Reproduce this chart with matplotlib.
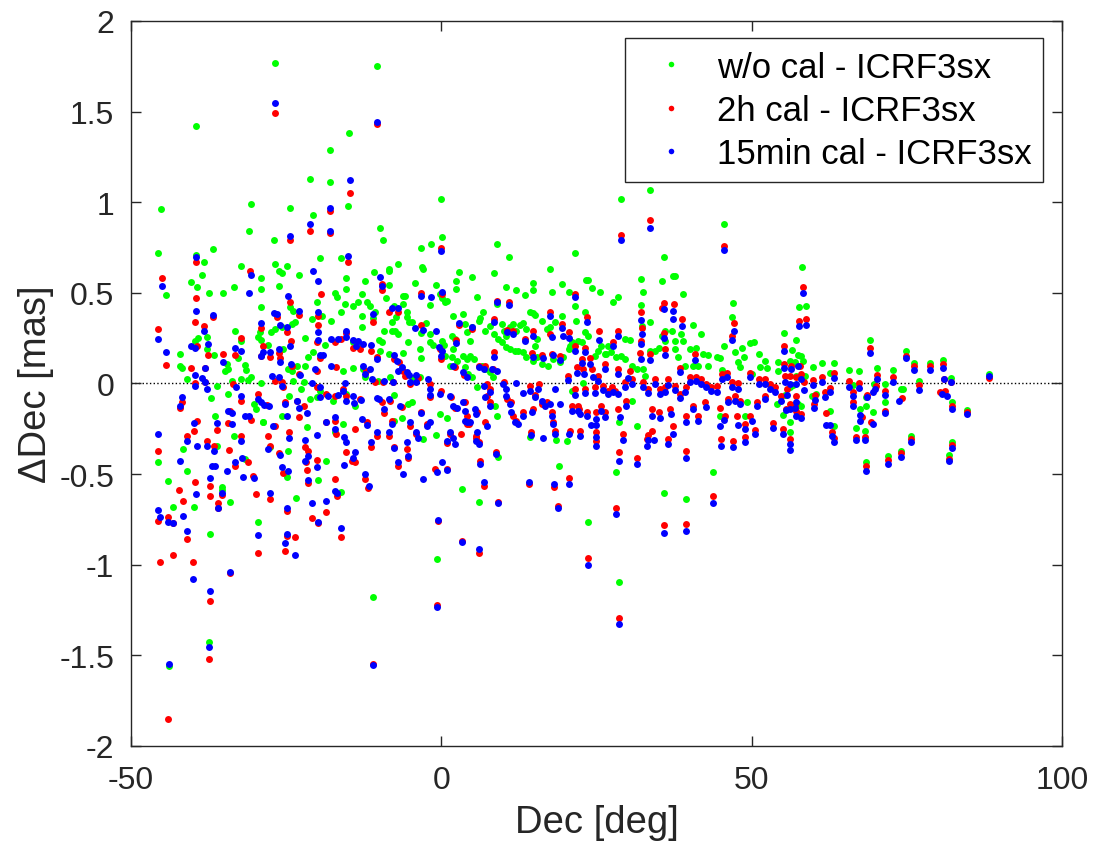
import numpy as np
import matplotlib
matplotlib.use('Agg')
import matplotlib.pyplot as plt

plt.rcParams['font.family'] = ['Liberation Sans', 'DejaVu Sans']
plt.rcParams['axes.unicode_minus'] = False

# Source declination [deg] and Dec offset [mas], one list of (dec, ddec) per solution
wo_cal = [
    (-26.75, 1.77), (-39.5, 1.42), (-14.9, 1.38), (-17.9, 1.29), (-21.2, 1.13), (-17.9, 1.11), (-45.1, 0.96),
    (-30.6, 0.99), (-24.3, 0.97), (-15.1, 0.98), (-20.6, 0.93), (-31.0, 0.84), (-27.0, 0.79), (-45.7, 0.72),
    (-39.5, 0.71), (-36.8, 0.74), (-38.2, 0.67), (-19.6, 0.69), (-16.2, 0.69), (-26.75, 0.66), (-24.9, 0.65),
    (-32.2, 0.65), (-10.3, 1.75), (-0.1, 1.02), (-9.8, 0.86), (-9.45, 0.79), (0.15, 0.81), (-3.3, 0.75),
    (-1.6, 0.77), (9.0, 0.77), (10.9, 0.70), (-7.0, 0.66), (17.5, 0.63), (-3.1, 0.64), (-8.5, 0.63),
    (28.9, 1.02), (33.6, 1.07), (45.6, 0.88), (21.5, 0.72), (35.8, 0.70), (58.15, 0.64),
    (-44.4, 0.49), (-40.3, 0.56), (-38.5, 0.60), (-39.4, 0.53), (-37.5, 0.50), (-35.1, 0.50), (-33.4, 0.53),
    (-29.0, 0.58), (-29.1, 0.52), (-26.2, 0.62), (-25.7, 0.61), (-26.2, 0.54), (-22.9, 0.60), (-20.1, 0.45),
    (-15.4, 0.58), (-15.3, 0.52), (-17.2, 0.50), (-16.8, 0.475), (-15.5, 0.44), (-29.0, 0.42), (-24.4, 0.42),
    (-23.9, 0.40), (-20.9, 0.356), (-19.3, 0.374), (-17.7, 0.347), (-16.1, 0.393), (-24.1, 0.33), (-23.6, 0.337),
    (-27.45, 0.286), (-26.8, 0.30), (-25.7, 0.31), (-33.2, 0.291), (-32.2, 0.236), (-39.7, 0.236), (-39.2, 0.25),
    (-37.8, 0.255), (-37.7, 0.19), (-36.7, 0.159), (-42.1, 0.163), (-42.1, 0.095), (-41.8, 0.087), (-34.6, 0.108),
    (-34.3, 0.08), (-34.8, 0.07), (-32.8, 0.139), (-40.9, 0.025), (-37.1, -0.082), (-36.2, -0.012), (-31.6, 0.10),
    (-31.4, 0.076), (-33.8, 0.016), (-30.6, 0.034), (-31.2, 0.021), (-32.2, 0.025), (-34.3, -0.058), (-36.5, -0.178),
    (-45.7, -0.431), (-41.6, -0.361), (-36.2, -0.343), (-41.0, -0.481), (-44.0, -0.538), (-33.4, -0.288),
    (-31.6, -0.416), (-35.4, -0.573), (-24.8, -0.518), (-24.7, -0.37), (-18.5, -0.43), (-19.9, -0.53),
    (-17.2, -0.27), (-15.8, -0.224), (-21.7, -0.242), (-28.8, -0.21), (-27.6, -0.35), (-25.7, -0.178),
    (-24.6, -0.067), (-28.7, -0.214), (-30.1, -0.113), (-29.8, -0.14), (-23.9, 0.016), (-22.2, 0.006),
    (-29.1, 0.0), (-22.6, -0.03), (-19.6, -0.04), (-15.3, -0.058), (-21.2, -0.085), (-20.1, -0.076),
    (-17.4, -0.095), (-15.8, 0.071), (-20.6, 0.172), (-21.4, 0.144), (-18.8, 0.212), (-21.9, 0.249),
    (-24.7, 0.08), (-24.1, 0.071), (-23.3, 0.098), (-22.0, 0.098), (-28.0, 0.21), (-29.1, 0.242), (-29.5, 0.255),
    (-29.2, 0.282), (-25.5, 0.19),
    (-10.9, 0.617), (-8.5, 0.622), (-3.0, 0.632), (2.9, 0.613), (5.0, 0.586), (8.5, 0.608),
    (-12.3, 0.564), (-8.4, 0.545), (-4.3, 0.554), (-0.86, 0.545), (2.4, 0.564), (2.4, 0.521), (10.5, 0.53),
    (12.1, 0.518), (14.7, 0.554), (14.7, 0.518), (17.8, 0.507), (19.5, 0.549), (-12.8, 0.494), (-8.9, 0.47),
    (-6.1, 0.485), (-5.9, 0.485), (-0.2, 0.494), (5.7, 0.475), (8.9, 0.44), (13.5, 0.49), (-13.4, 0.448),
    (-14.3, 0.426), (-12.0, 0.448), (-11.5, 0.43), (-10.7, 0.393), (-7.7, 0.426), (-6.1, 0.438), (-1.8, 0.433),
    (0.85, 0.457), (0.6, 0.45), (0.05, 0.47), (-12.8, 0.374), (-12.8, 0.31), (-11.0, 0.36), (-9.3, 0.29),
    (-8.0, 0.337), (-7.3, 0.365), (-5.6, 0.396), (-5.6, 0.365), (-5.2, 0.34), (-4.8, 0.34), (-2.4, 0.334),
    (-1.9, 0.273), (-3.3, 0.279), (-5.3, 0.231), (-7.0, 0.273), (-8.0, 0.29), (-7.5, 0.29), (-14.3, 0.227),
    (-13.4, 0.218), (-10.0, 0.242), (-9.5, 0.227), (-9.9, 0.181), (-8.5, 0.163), (-6.1, 0.168), (-3.2, 0.139),
    (-3.4, 0.19), (-1.8, 0.231), (-1.4, 0.212), (0.05, 0.236), (0.4, 0.21), (0.6, 0.15), (1.7, 0.264),
    (2.2, 0.245), (3.5, 0.383), (1.9, 0.374), (3.8, 0.328), (4.1, 0.282), (4.9, 0.31), (4.6, 0.236),
    (6.0, 0.347), (6.3, 0.36), (6.7, 0.396), (7.0, 0.291), (7.8, 0.315), (8.5, 0.273), (9.2, 0.245),
    (9.7, 0.328), (10.1, 0.291), (10.5, 0.264), (11.1, 0.31), (11.5, 0.328), (12.1, 0.291), (12.7, 0.32),
    (13.2, 0.334), (13.6, 0.30), (14.3, 0.393), (14.7, 0.39), (15.1, 0.38), (16.2, 0.347), (17.0, 0.30),
    (17.5, 0.31), (18.3, 0.337), (19.5, 0.374), (15.4, 0.245), (15.1, 0.205), (9.7, 0.231), (10.5, 0.2),
    (11.1, 0.19), (11.9, 0.181), (12.4, 0.181), (13.2, 0.172), (13.7, 0.144), (14.7, 0.126), (15.4, 0.144),
    (16.2, 0.108), (17.2, 0.098), (18.0, 0.135), (19.1, 0.117), (19.6, 0.144), (1.9, 0.19), (1.7, 0.144),
    (1.4, 0.098), (2.5, 0.126), (3.5, 0.15), (4.1, 0.135), (4.7, 0.15), (5.3, 0.135), (3.8, 0.089),
    (4.3, 0.052), (4.9, 0.034), (5.7, -0.021), (6.5, 0.098), (7.0, 0.08), (7.8, 0.062), (8.4, 0.034),
    (-14.2, 0.084), (-12.6, 0.08), (-12.3, 0.034), (-10.2, 0.016), (-8.3, 0.034), (-4.5, 0.029), (-3.5, 0.034),
    (-13.9, -0.122), (-7.7, -0.064), (-6.4, -0.192), (-5.3, -0.113), (-4.8, -0.104), (-7.7, -0.205),
    (-0.2, -0.168), (0.85, -0.192), (-0.9, -0.284), (-2.9, -0.306), (8.6, -0.122), (8.9, -0.178),
    (9.2, -0.407), (19.0, -0.453), (18.5, -0.31), (14.3, -0.297), (3.4, -0.582),
    (23.3, 0.573), (23.7, 0.573), (37.4, 0.591), (37.6, 0.591), (35.5, 0.567), (32.1, 0.577), (20.5, 0.503),
    (24.3, 0.527), (25.5, 0.507), (28.4, 0.475), (27.6, 0.448), (32.5, 0.507), (39.0, 0.494), (47.0, 0.446),
    (21.5, 0.43), (32.1, 0.433), (46.8, 0.365), (21.7, 0.347), (23.1, 0.393), (26.9, 0.205), (25.8, 0.209),
    (26.4, 0.163), (24.8, 0.153), (28.2, 0.144), (29.0, 0.15), (29.6, 0.135), (30.7, 0.098), (31.5, 0.08),
    (32.5, 0.08), (32.8, 0.043), (33.6, 0.181), (34.4, 0.181), (35.0, 0.194), (36.0, 0.291), (37.1, 0.291),
    (37.6, 0.236), (38.6, 0.273), (39.0, 0.236), (40.6, 0.323), (41.9, 0.273), (40.1, 0.19), (41.1, 0.194),
    (42.2, 0.163), (43.0, 0.157), (44.4, 0.144), (44.9, 0.139), (45.6, 0.209), (47.3, 0.172), (48.4, 0.194),
    (49.7, 0.223), (50.3, 0.231), (51.1, 0.163), (52.1, 0.126), (47.8, 0.12), (48.1, 0.089), (51.3, 0.089),
    (52.4, 0.084), (54.3, 0.117), (54.3, 0.071), (50.0, 0.052), (48.7, 0.144), (45.2, 0.076), (43.0, 0.098),
    (41.4, 0.098), (40.6, 0.098), (39.3, 0.098), (38.2, 0.144), (37.6, 0.19), (35.5, 0.264), (36.0, 0.236),
    (29.6, 0.245), (30.4, 0.242), (23.1, 0.282), (23.7, 0.264), (22.1, 0.236), (22.6, 0.227), (20.7, 0.209),
    (25.3, 0.181), (26.6, 0.163), (27.4, 0.172), (32.3, 0.319), (33.6, 0.337), (21.1, 0.227), (20.5, 0.19),
    (30.7, -0.095), (31.6, -0.236), (28.7, -0.214), (20.3, -0.317), (44.9, -0.178), (48.9, -0.178),
    (28.2, -0.486), (43.8, -0.486), (22.9, 0.0), (21.0, -0.04), (54.0, -0.113), (49.2, -0.104),
    (57.6, 0.424), (58.7, 0.43), (55.2, 0.279), (57.2, 0.24), (56.5, 0.187), (57.5, 0.157), (57.9, 0.15),
    (58.2, 0.126), (56.1, 0.126), (57.0, 0.12), (59.8, 0.093), (61.4, 0.115), (63.3, 0.113), (62.6, 0.058),
    (65.7, 0.074), (67.3, 0.067), (70.2, 0.085), (72.7, 0.074), (74.9, 0.181), (76.2, 0.111), (78.7, 0.111),
    (80.9, 0.13), (69.1, 0.242), (76.9, 0.012), (82.1, 0.028), (74.0, -0.03), (74.4, -0.03), (71.5, -0.003),
    (69.7, -0.003), (68.4, -0.076), (66.4, -0.009), (67.5, -0.141), (68.4, -0.122), (69.6, -0.159),
    (71.5, -0.104), (62.6, -0.15), (63.3, -0.233), (66.8, -0.247), (68.3, -0.264), (82.2, -0.104),
    (84.7, -0.148), (75.7, -0.288), (82.2, -0.321), (74.0, -0.37), (71.9, -0.398), (68.4, -0.431),
    (81.8, -0.394), (55.1, -0.174), (56.1, -0.214), (56.1, -0.266), (55.4, -0.064), (56.2, -0.021),
    (56.7, -0.008), (57.4, -0.113), (57.9, -0.122), (57.1, 0.043), (58.6, 0.043), (59.7, -0.067), (60.4, -0.058),
    (88.3, 0.05),
    (-35.4, -0.586), (-34.0, -0.652), (-43.3, -0.681), (-39.9, -0.683), (-37.3, -0.828), (-29.6, -0.762),
    (-23.4, -0.633), (-16.2, -0.597), (-37.4, -1.428), (-43.8, -1.556), (6.1, -0.654), (-0.7, -0.968),
    (-11.0, -1.176), (35.9, -0.606), (39.5, -0.637), (23.6, -0.766), (28.7, -1.097),
]

cal_2h = [
    (-26.75, 1.49), (-10.3, 1.43), (-14.7, 1.05), (-17.9, 0.95), (-21.2, 0.84), (-24.3, 0.79), (-39.5, 0.67),
    (-15.1, 0.67), (-0.1, 0.75), (33.6, 0.90), (28.9, 0.82), (45.6, 0.76), (-17.9, 0.83),
    (-45.06, 0.582), (-39.5, 0.472), (-39.7, 0.341), (-30.8, 0.623), (-19.4, 0.494), (-24.4, 0.448),
    (-36.8, 0.369), (-26.5, 0.365), (-22.9, 0.378), (-19.8, 0.374), (-19.9, 0.323), (-29.1, 0.304),
    (-24.9, 0.282), (-45.7, 0.30), (-38.2, 0.315), (-32.2, 0.251), (-39.4, 0.209), (-37.6, 0.157),
    (-44.4, 0.104), (-35.2, 0.163), (-33.3, 0.157), (-40.3, 0.083), (-38.1, 0.006), (-39.7, 0.0),
    (-38.0, 0.083), (-33.5, -0.003), (-41.8, -0.104), (-42.1, -0.137), (-34.1, -0.15), (-32.2, -0.095),
    (-36.2, -0.257), (-34.4, -0.22), (-39.4, -0.205), (-39.8, -0.26), (-45.6, -0.372), (-40.9, -0.292),
    (-37.8, -0.32), (-36.7, -0.343), (-39.7, -0.541), (-37.3, -0.563), (-33.2, -0.457), (-34.2, -0.365),
    (-32.3, -0.288), (-31.2, -0.431), (-30.3, -0.51), (-25.5, -0.494), (-26.1, -0.385), (-24.5, -0.27),
    (-21.4, -0.37), (-21.8, -0.435), (-20.1, -0.42), (-21.7, -0.477), (-21.4, -0.55), (-17.2, -0.527),
    (-15.3, -0.38), (-16.9, -0.28), (-17.2, -0.205), (-18.5, -0.21), (-22.0, -0.352), (-27.6, -0.343),
    (-27.9, -0.292), (-26.8, -0.233), (-30.6, -0.2), (-23.0, -0.187), (-22.1, -0.122), (-23.3, -0.095),
    (-25.2, -0.1), (-29.5, -0.058), (-28.1, -0.12), (-26.8, 0.015), (-25.6, 0.007), (-25.5, -0.02),
    (-20.1, 0.07), (-20.1, -0.021), (-18.5, -0.058), (-17.1, -0.067), (-15.8, -0.03), (-15.3, -0.067),
    (-16.9, 0.089), (-17.2, 0.227), (-16.1, 0.245), (-15.4, 0.28), (-20.1, 0.231), (-19.6, 0.139),
    (-24.2, 0.236), (-26.0, 0.139), (-24.1, 0.098), (-23.0, 0.052), (-29.0, 0.15), (-28.7, 0.205),
    (-27.6, 0.144), (-26.2, 0.17),
    (-9.6, 0.55), (-9.5, 0.515), (-3.3, 0.5), (0.05, 0.494), (8.9, 0.457), (10.95, 0.448), (-8.4, 0.393),
    (-6.9, 0.393), (-10.96, 0.341), (-3.2, 0.322), (2.4, 0.242), (2.9, 0.323), (5.0, 0.30), (8.5, 0.356),
    (10.6, 0.297), (11.6, 0.29), (13.5, 0.245), (14.7, 0.29), (17.5, 0.393), (17.5, 0.273), (19.5, 0.328),
    (8.5, 0.172), (14.6, 0.168), (16.2, 0.157), (17.8, 0.16), (19.2, 0.153), (-14.3, 0.194), (-13.1, 0.19),
    (-11.4, 0.181), (-10.4, 0.144), (-7.6, 0.135), (-6.8, 0.118), (-6.1, 0.07), (-5.9, 0.043), (-3.7, 0.03),
    (-0.2, 0.19), (-0.1, 0.135), (2.2, 0.089), (3.6, 0.047), (6.0, 0.098), (7.0, 0.098), (8.4, 0.08),
    (-12.1, 0.07), (-13.1, -0.086), (-9.6, -0.1), (-8.3, -0.095), (-7.8, 0.006), (-9.4, 0.006), (-10.7, 0.006),
    (-5.1, -0.003), (-1.8, -0.003), (-1.8, -0.076), (-0.1, -0.04), (1.5, -0.076), (2.2, -0.137), (3.8, -0.104),
    (4.1, -0.178), (4.4, -0.223), (5.7, -0.155), (5.6, -0.288), (6.1, -0.325), (7.0, -0.214), (7.4, -0.067),
    (7.8, -0.03), (7.3, -0.004), (10.1, 0.006), (10.6, -0.086), (11.2, -0.1), (11.6, -0.178), (12.0, -0.205),
    (13.2, -0.16), (14.8, -0.14), (15.1, -0.064), (14.3, -0.012), (15.8, -0.003), (16.2, -0.113),
    (17.0, -0.104), (17.8, -0.16), (18.0, -0.215), (18.3, -0.26), (14.5, -0.27), (8.8, -0.38), (6.2, -0.43),
    (0.85, -0.47), (-1.0, -0.47), (-6.9, -0.453), (-12.3, -0.527), (-13.9, -0.435), (-11.4, -0.352),
    (-10.4, -0.288), (-8.5, -0.288), (-8.0, -0.205), (-7.7, -0.35), (-5.6, -0.361), (-5.3, -0.41), (-4.0, -0.28),
    (-2.3, -0.225), (-3.2, -0.155), (0.85, -0.33), (1.4, -0.28), (3.2, -0.28), (4.1, -0.223), (5.6, -0.3),
    (7.8, -0.104), (-6.4, -0.13), (-5.0, -0.233), (-9.3, -0.163), (-12.0, -0.215), (-13.9, -0.25),
    (6.8, -0.564), (14.2, -0.555), (18.1, -0.57), (-11.8, -0.575), (-14.4, -0.43),
    (21.5, 0.494), (35.8, 0.444), (37.5, 0.438), (35.5, 0.415), (38.7, 0.356), (32.1, 0.393), (32.4, 0.304),
    (28.4, 0.29), (23.4, 0.365), (20.6, 0.282), (25.4, 0.291), (46.8, 0.264), (47.2, 0.334), (35.8, 0.278),
    (36.0, 0.19), (27.6, 0.231), (32.2, 0.236), (23.1, 0.194), (21.5, 0.205), (32.0, 0.168), (33.6, 0.163),
    (40.8, 0.163), (38.4, 0.084), (24.0, 0.139), (26.4, 0.108), (21.8, 0.089), (20.4, 0.043), (28.5, 0.08),
    (30.4, 0.071), (34.4, 0.025), (36.6, 0.025), (41.1, 0.034), (39.5, -0.021), (45.2, 0.052), (46.0, 0.06),
    (47.8, 0.0), (49.7, 0.06), (51.1, 0.025), (52.1, 0.025), (53.8, -0.021), (21.0, -0.126), (22.2, -0.14),
    (23.4, -0.159), (25.0, -0.159), (26.4, -0.159), (28.4, -0.14), (29.7, -0.095), (20.7, -0.26),
    (22.3, -0.26), (25.0, -0.27), (24.9, -0.315), (29.3, -0.278), (33.3, -0.284), (33.9, -0.26),
    (36.6, -0.306), (37.4, -0.233), (39.4, -0.178), (39.4, -0.37), (28.7, -0.38), (31.6, -0.41),
    (33.2, -0.306), (45.1, -0.306), (47.0, -0.315), (48.9, -0.297), (50.5, -0.254), (53.5, -0.218),
    (48.9, -0.223), (44.9, -0.137), (47.6, -0.18), (20.5, -0.523), (22.6, 0.135), (22.9, 0.08), (24.2, 0.08),
    (25.3, 0.043), (26.1, -0.012), (26.9, -0.04), (27.5, -0.021), (28.0, -0.04), (23.1, -0.03), (24.8, -0.021),
    (21.5, -0.03), (30.7, 0.025), (29.6, 0.006), (32.5, 0.006), (33.3, -0.03), (35.2, -0.03), (36.0, -0.021),
    (37.6, -0.012), (38.4, -0.058), (40.1, 0.034), (41.9, 0.025), (42.7, -0.003), (43.5, -0.021),
    (44.4, -0.012), (46.8, 0.006), (47.3, -0.067), (48.1, -0.095), (46.2, -0.085), (52.1, -0.067),
    (53.0, -0.003), (50.8, -0.104), (49.7, -0.178), (45.7, -0.178), (22.1, -0.122), (25.8, -0.122),
    (33.9, -0.14), (35.0, -0.16), (36.9, -0.14), (40.6, -0.122), (41.4, -0.178), (42.5, -0.104),
    (58.2, 0.532), (57.6, 0.343), (58.7, 0.356), (55.2, 0.205), (55.2, 0.107), (56.4, 0.098), (57.8, 0.098),
    (55.4, 0.04), (56.1, 0.043), (57.2, 0.034), (57.9, 0.052), (58.4, 0.006), (54.8, -0.067), (55.7, -0.03),
    (57.1, -0.067), (56.2, -0.113), (57.0, -0.122), (57.1, -0.15), (57.9, -0.168), (55.1, -0.25),
    (56.1, -0.306), (55.5, -0.14), (59.8, 0.019), (61.4, 0.034), (63.3, 0.056), (62.6, -0.025), (61.8, -0.045),
    (60.2, -0.063), (60.1, -0.113), (61.9, -0.163), (62.9, -0.27), (63.3, -0.302), (65.7, 0.016),
    (67.3, 0.001), (66.3, -0.045), (66.3, -0.1), (67.7, -0.187), (66.8, -0.297), (68.3, -0.293),
    (68.6, -0.064), (69.2, -0.21), (69.1, 0.196), (70.2, 0.047), (70.1, -0.012), (71.5, -0.04), (71.5, -0.15),
    (72.7, 0.034), (74.2, -0.08), (74.9, 0.15), (76.2, 0.095), (78.7, 0.095), (80.9, 0.106), (76.9, -0.008),
    (80.3, -0.045), (81.1, -0.04), (81.0, 0.025), (82.1, 0.01), (82.2, -0.122), (84.7, -0.159),
    (75.7, -0.306), (82.2, -0.338), (74.0, -0.385), (71.9, -0.422), (68.4, -0.457), (81.8, -0.416),
    (88.3, 0.032),
    (-42.2, -0.586), (-37.3, -0.619), (-35.4, -0.615), (-41.6, -0.648), (-35.9, -0.659), (-45.7, -0.757),
    (-44.0, -0.736), (-41.0, -0.86), (-45.4, -0.983), (-43.3, -0.944), (-40.0, -0.985), (-34.1, -1.045),
    (-37.3, -1.2), (-37.4, -1.522), (-44.0, -1.85), (-29.6, -0.935), (-29.9, -0.61), (-27.6, -0.637),
    (-24.8, -0.702), (-24.9, -0.843), (-25.2, -0.922), (-23.5, -0.849), (-20.8, -0.742), (-19.9, -0.771),
    (-18.5, -0.707), (-16.8, -0.622), (-16.2, -0.849), (9.2, -0.652), (18.8, -0.678), (-0.55, -0.758),
    (6.1, -0.935), (-0.65, -1.222), (43.8, -0.622), (28.2, -0.687), (35.9, -0.782), (39.5, -0.773),
    (23.6, -0.963), (28.7, -1.296), (-35.9, -0.685), (-43.3, -0.77), (3.4, -0.87), (-11.0, -1.55),
]

cal_15min = [
    (-26.75, 1.55), (-10.3, 1.44), (-14.7, 1.12), (-17.9, 0.97), (-21.2, 0.88), (-17.9, 0.84), (-24.3, 0.815),
    (-39.5, 0.70), (-15.1, 0.705), (-0.1, 0.73), (33.6, 0.86), (28.9, 0.79), (45.6, 0.735),
    (-45.06, 0.54), (-39.5, 0.402), (-30.6, 0.60), (-20.6, 0.619), (-19.9, 0.564), (-31.0, 0.497),
    (-24.7, 0.485), (-36.8, 0.375), (-26.5, 0.383), (-27.0, 0.39), (-22.9, 0.40), (-19.8, 0.396),
    (-19.9, 0.282), (-29.1, 0.334), (-24.9, 0.31), (-26.0, 0.32), (-45.7, 0.245), (-38.2, 0.291),
    (-40.3, 0.209), (-39.7, 0.196), (-37.6, 0.218), (-44.4, 0.176), (-35.2, 0.117), (-33.3, 0.196),
    (-32.2, 0.181), (-39.7, 0.047), (-38.5, 0.028), (-38.1, 0.006), (-39.7, -0.016), (-37.8, -0.03),
    (-38.0, 0.083), (-33.0, -0.021), (-41.8, -0.076), (-42.1, -0.122), (-34.4, -0.15), (-33.8, -0.163),
    (-32.2, -0.067), (-36.2, -0.22), (-33.8, -0.223), (-39.8, -0.218), (-45.6, -0.277), (-40.9, -0.315),
    (-39.4, -0.343), (-37.7, -0.343), (-36.7, -0.37), (-42.1, -0.43), (-37.3, -0.523), (-36.9, -0.453),
    (-36.5, -0.453), (-34.6, -0.485), (-33.2, -0.435), (-32.3, -0.32), (-32.1, -0.413), (-32.0, -0.514),
    (-30.1, -0.52), (-25.7, -0.459), (-24.7, -0.481), (-26.0, -0.394), (-24.5, -0.302), (-21.4, -0.398),
    (-21.9, -0.43), (-20.1, -0.459), (-21.4, -0.53), (-15.6, -0.45), (-15.3, -0.325), (-15.6, -0.297),
    (-17.2, -0.25), (-17.2, -0.187), (-18.5, -0.213), (-20.1, -0.282), (-21.9, -0.31), (-27.9, -0.361),
    (-27.1, -0.233), (-31.0, -0.178), (-31.6, -0.18), (-24.9, -0.178), (-22.9, -0.137), (-21.7, -0.163),
    (-23.3, -0.095), (-25.2, -0.113), (-29.5, -0.085), (-29.0, -0.1), (-28.5, -0.12), (-27.7, -0.126),
    (-27.2, 0.04), (-26.2, 0.034), (-25.7, -0.012), (-20.4, 0.08), (-20.9, 0.0), (-19.6, -0.021),
    (-18.2, -0.067), (-16.6, -0.064), (-15.8, -0.04), (-15.5, 0.0), (-15.3, -0.095), (-19.6, -0.076),
    (-17.7, 0.098), (-17.7, 0.245), (-16.6, 0.245), (-15.4, 0.254), (-15.4, 0.29), (-19.8, 0.242),
    (-19.6, 0.157), (-19.0, 0.157), (-24.4, 0.205), (-26.0, 0.117), (-24.2, 0.11), (-22.8, 0.047),
    (-29.0, 0.15), (-28.7, 0.176), (-27.6, 0.172), (-26.2, 0.19),
    (-9.8, 0.586), (-9.6, 0.54), (-3.3, 0.485), (0.05, 0.507), (-1.6, 0.475), (8.9, 0.448), (10.95, 0.433),
    (-7.9, 0.415), (-6.9, 0.415), (-10.96, 0.383), (-4.25, 0.304), (-3.0, 0.297), (-0.87, 0.291), (2.4, 0.224),
    (2.9, 0.334), (5.0, 0.31), (8.5, 0.337), (10.6, 0.282), (11.6, 0.272), (13.5, 0.236), (14.7, 0.264),
    (17.5, 0.37), (17.8, 0.255), (19.5, 0.304), (19.6, 0.264), (8.5, 0.144), (14.8, 0.144), (16.4, 0.14),
    (18.0, 0.155), (19.2, 0.131), (-14.3, 0.242), (-13.5, 0.236), (-11.4, 0.212), (-12.6, 0.22),
    (-13.7, 0.205), (-10.4, 0.135), (-7.7, 0.157), (-7.2, 0.125), (-6.4, 0.09), (-6.9, 0.07), (-5.6, 0.065),
    (-5.2, 0.047), (-4.0, 0.047), (-0.3, 0.2), (0.05, 0.181), (-0.1, 0.15), (1.9, 0.094), (3.5, 0.062),
    (4.2, 0.034), (6.0, 0.089), (6.8, 0.08), (8.1, 0.08), (8.9, 0.071), (-12.3, 0.052), (-12.6, 0.098),
    (-11.5, 0.08), (-14.3, -0.067), (-14.1, -0.105), (-13.0, -0.09), (-10.3, -0.082), (-10.0, -0.086),
    (-8.5, -0.086), (-7.8, 0.006), (-9.3, 0.016), (-11.2, 0.025), (-5.1, 0.006), (-4.0, 0.01), (-2.1, 0.025),
    (-1.8, -0.03), (-1.8, -0.064), (-0.2, -0.058), (1.4, -0.067), (1.9, -0.122), (2.5, -0.137), (3.5, -0.104),
    (3.8, -0.15), (4.1, -0.214), (5.4, -0.14), (5.6, -0.17), (5.7, -0.27), (6.0, -0.334), (7.4, -0.233),
    (7.0, -0.076), (7.8, -0.049), (6.9, -0.016), (10.0, -0.003), (10.5, -0.03), (10.4, -0.067),
    (11.1, -0.113), (11.3, -0.16), (11.8, -0.214), (12.4, -0.223), (13.2, -0.178), (14.6, -0.16),
    (15.1, -0.076), (14.3, -0.04), (13.2, -0.05), (12.1, 0.0), (15.6, -0.03), (16.2, -0.095), (16.7, -0.122),
    (17.5, -0.113), (18.3, -0.03), (19.1, -0.113), (17.8, -0.178), (18.0, -0.223), (18.3, -0.28),
    (14.5, -0.282), (16.4, -0.303), (8.8, -0.389), (6.2, -0.444), (0.85, -0.48), (0.05, -0.435),
    (-0.7, -0.486), (-2.9, -0.527), (-6.1, -0.5), (-6.9, -0.435), (-12.3, -0.5), (-13.9, -0.38),
    (-14.2, -0.41), (-11.4, -0.325), (-10.4, -0.27), (-8.5, -0.27), (-8.0, -0.222), (-7.7, -0.358),
    (-5.6, -0.325), (-5.3, -0.4), (-4.0, -0.27), (-3.7, -0.3), (-2.3, -0.233), (-3.2, -0.163), (-1.8, -0.21),
    (0.85, -0.315), (1.4, -0.27), (1.9, -0.3), (2.2, -0.335), (3.8, -0.205), (4.7, -0.21), (5.6, -0.32),
    (7.8, -0.122), (-6.6, -0.122), (-5.1, -0.214), (-9.3, -0.14), (-12.8, -0.195), (-12.0, -0.23),
    (6.8, -0.545), (14.2, -0.545), (18.1, -0.555), (-11.7, -0.565),
    (21.5, 0.475), (35.8, 0.41), (37.4, 0.40), (37.3, 0.355), (38.7, 0.319), (32.1, 0.352), (32.4, 0.273),
    (28.4, 0.264), (23.4, 0.337), (20.6, 0.249), (25.4, 0.242), (46.8, 0.24), (47.2, 0.29), (35.8, 0.249),
    (36.0, 0.157), (27.6, 0.205), (32.2, 0.218), (23.1, 0.172), (21.5, 0.181), (32.2, 0.135), (33.6, 0.132),
    (40.8, 0.132), (38.4, 0.062), (24.0, 0.108), (26.4, 0.08), (21.8, 0.058), (20.4, 0.021), (28.5, 0.052),
    (30.1, 0.03), (34.4, -0.003), (36.6, -0.008), (41.1, 0.016), (39.3, -0.045), (45.2, 0.025), (46.0, 0.034),
    (47.8, -0.03), (49.7, 0.034), (51.1, -0.003), (52.1, -0.003), (53.8, -0.049), (21.0, -0.15),
    (22.3, -0.168), (23.4, -0.178), (25.0, -0.196), (26.4, -0.186), (28.8, -0.186), (29.7, -0.122),
    (24.1, -0.229), (25.0, -0.229), (20.6, -0.28), (22.3, -0.288), (25.0, -0.297), (24.9, -0.346),
    (29.3, -0.31), (33.3, -0.31), (34.3, -0.31), (36.6, -0.334), (37.4, -0.279), (39.4, -0.21),
    (39.4, -0.413), (28.7, -0.426), (31.6, -0.444), (33.2, -0.346), (45.1, -0.346), (47.0, -0.352),
    (48.9, -0.324), (50.5, -0.278), (53.5, -0.247), (48.9, -0.25), (44.9, -0.236), (47.8, -0.23),
    (20.5, -0.554), (22.6, 0.113), (23.0, 0.052), (24.5, 0.034), (25.3, 0.016), (26.1, -0.034),
    (26.8, -0.058), (27.7, -0.045), (28.5, -0.058), (23.2, -0.052), (24.8, -0.052), (21.5, -0.064),
    (30.7, -0.003), (29.6, -0.021), (32.5, -0.021), (33.3, -0.052), (35.2, -0.058), (36.0, -0.045),
    (37.6, -0.034), (38.4, -0.082), (40.1, 0.006), (41.9, -0.003), (42.7, -0.021), (43.5, -0.04),
    (44.4, -0.049), (46.8, -0.021), (47.3, -0.095), (48.1, -0.113), (46.2, -0.104), (52.1, -0.085),
    (53.0, -0.03), (50.8, -0.122), (50.0, -0.205), (45.6, -0.2), (22.1, -0.15), (25.8, -0.15),
    (33.9, -0.178), (35.2, -0.19), (37.0, -0.168), (40.6, -0.14), (41.4, -0.205), (42.7, -0.131),
    (58.2, 0.5), (57.6, 0.319), (58.7, 0.323), (55.2, 0.18), (55.2, 0.084), (56.4, 0.08), (57.5, 0.095),
    (55.4, 0.01), (56.1, -0.003), (57.2, -0.003), (57.9, 0.025), (58.4, -0.034), (54.8, -0.095),
    (55.7, -0.064), (57.1, -0.1), (56.2, -0.14), (57.0, -0.137), (57.1, -0.178), (57.9, -0.192),
    (55.1, -0.279), (56.1, -0.334), (56.1, -0.367), (55.5, -0.145), (59.8, -0.008), (61.4, 0.01),
    (63.3, 0.03), (62.6, -0.045), (61.8, -0.076), (60.2, -0.089), (60.1, -0.137), (61.9, -0.229),
    (62.6, -0.229), (62.9, -0.288), (63.3, -0.321), (65.7, -0.021), (67.3, -0.025), (66.3, -0.071),
    (66.3, -0.122), (67.5, -0.172), (67.5, -0.205), (66.8, -0.313), (68.3, -0.313), (68.6, -0.076),
    (69.6, -0.223), (69.1, 0.168), (70.2, 0.025), (69.9, -0.03), (69.6, -0.049), (71.5, -0.062),
    (71.5, -0.163), (72.7, 0.007), (73.8, -0.095), (74.9, 0.139), (76.2, 0.076), (78.7, 0.076),
    (80.9, 0.086), (76.9, -0.034), (80.6, -0.058), (81.4, -0.067), (81.0, 0.025), (82.1, 0.01),
    (82.2, -0.141), (84.7, -0.17), (75.7, -0.321), (82.2, -0.354), (74.0, -0.404), (71.9, -0.446),
    (68.4, -0.481), (81.8, -0.429), (88.3, 0.041),
    (-39.6, -0.608), (-35.4, -0.606), (-35.9, -0.689), (-45.7, -0.698), (-45.3, -0.735), (-44.0, -0.762),
    (-43.3, -0.771), (-41.6, -0.733), (-41.0, -0.814), (-40.0, -1.08), (-34.1, -1.038), (-37.3, -1.145),
    (-37.4, -1.454), (-43.8, -1.549), (-29.6, -0.834), (-27.6, -0.604), (-24.8, -0.689), (-24.9, -0.828),
    (-25.2, -0.88), (-23.5, -0.944), (-20.8, -0.661), (-19.9, -0.762), (-18.5, -0.65), (-17.1, -0.591),
    (-16.8, -0.606), (-16.2, -0.799), (9.2, -0.661), (18.8, -0.689), (-0.55, -0.751), (3.4, -0.876),
    (6.1, -0.915), (-0.65, -1.231), (-11.0, -1.555), (43.8, -0.659), (28.2, -0.72), (35.9, -0.823),
    (39.5, -0.814), (23.6, -0.999), (28.7, -1.327),
]

labels = ['w/o cal - ICRF3sx', '2h cal - ICRF3sx', '15min cal - ICRF3sx']
colors = ['#00ff00', '#ff0000', '#0000ff']


def main():
    fig = plt.figure(figsize=(10.96, 8.54), dpi=100)
    ax = fig.add_axes([0.1195, 0.1253, 0.8495, 0.849])

    # Plot the three solutions, blue ends up on top
    for data, lab, col in zip([wo_cal, cal_2h, cal_15min], labels, colors):
        dec, ddec = np.array(data).T
        ax.plot(dec, ddec, linestyle='none', marker='o', markersize=5.0,
                markeredgewidth=0, color=col, label=lab)

    # Zero line
    ax.axhline(0, color='k', linestyle=':', linewidth=1.0, zorder=0)

    ax.set_xlim(-50, 100)
    ax.set_ylim(-2, 2)
    ax.set_xticks([-50, 0, 50, 100])
    ax.set_yticks(np.arange(-2, 2.01, 0.5))
    ax.set_yticklabels(['-2', '-1.5', '-1', '-0.5', '0', '0.5', '1', '1.5', '2'])

    ax.tick_params(direction='in', length=7, width=1, top=True, right=True,
                   labelsize=23, colors='#262626', labelcolor='#262626')
    ax.tick_params(axis='x', pad=14)
    ax.tick_params(axis='y', pad=12)
    for sp in ax.spines.values():
        sp.set_color('#262626')
        sp.set_linewidth(1.0)

    ax.set_xlabel('Dec [deg]', fontsize=27.5, color='#262626', labelpad=6)
    ax.set_ylabel('\u0394Dec [mas]', fontsize=27.5, color='#262626', labelpad=4)

    leg = ax.legend(loc='upper right', bbox_to_anchor=(0.98, 0.976), borderaxespad=0,
                    fontsize=25, markerscale=0.8, handlelength=2.0, handletextpad=0.3,
                    labelspacing=0.3, borderpad=0.35, fancybox=False, framealpha=1,
                    edgecolor='#262626')
    leg.get_frame().set_linewidth(1.0)

    fig.savefig('out.png', dpi=100)


main()
